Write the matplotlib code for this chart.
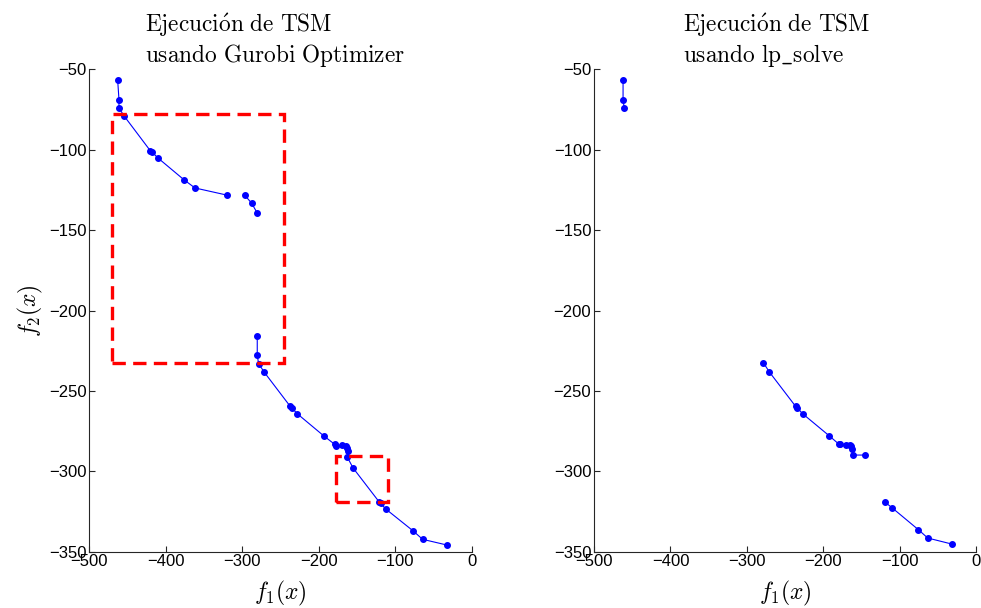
import matplotlib.pyplot as plt
from matplotlib.patches import Rectangle

plt.rcParams['mathtext.fontset'] = 'cm'
plt.rcParams['font.family'] = ['Liberation Sans', 'DejaVu Sans']

# Pareto fronts (f1, f2); each inner list is one connected run
gurobi_f1 = [
    [-462.9, -461.2, -461.2, -454.2, -420.3, -418.0, -410.6, -376.2, -361.8, -320.4],
    [-296.9, -287.7, -280.4],
    [-280.4, -280.4, -278.6, -271.2, -237.3, -235.4, -228.1, -193.6, -179.2, -177.5,
     -169.7, -164.4, -162.7, -161.8, -162.7, -155.3, -120.9, -119.1, -112.5, -76.5,
     -64.2, -32.8],
]
gurobi_f2 = [
    [-56.8, -68.9, -74.1, -79.2, -100.6, -101.4, -105.0, -118.7, -123.8, -128.2],
    [-128.2, -133.3, -139.4],
    [-215.9, -227.9, -233.1, -238.4, -259.6, -260.4, -264.2, -277.9, -283.2, -284.1,
     -283.8, -284.3, -285.5, -287.2, -291.1, -297.8, -319.1, -319.9, -323.4, -337.1,
     -342.3, -345.8],
]

lpsolve_f1 = [
    [-462.0, -462.0, -460.5],
    [-278.5, -270.6, -236.4, -234.2, -227.2, -192.5, -180.3, -178.5, -171.0, -165.8,
     -163.6, -163.2, -161.4, -145.6],
    [-119.7, -110.5, -75.9, -63.6, -32.5],
]
lpsolve_f2 = [
    [-56.8, -68.9, -74.1],
    [-232.5, -238.3, -259.6, -260.6, -264.2, -277.9, -282.9, -283.2, -283.8, -283.8,
     -284.3, -286.1, -289.9, -289.9],
    [-319.1, -322.6, -336.3, -341.5, -345.2],
]

# highlighted regions on the Gurobi front: (x0, y0, width, height)
boxes = [(-470.0, -232.5, 224.0, 155.0), (-178.0, -319.0, 68.0, 28.7)]

titles = [r'$\mathrm{Ejecuci\acute{o}n\ de\ TSM}$' + '\n' + r'$\mathrm{usando\ Gurobi\ Optimizer}$',
          r'$\mathrm{Ejecuci\acute{o}n\ de\ TSM}$' + '\n' + r'$\mathrm{usando\ lp\_solve}$']

fig = plt.figure(figsize=(9.81, 6.08), dpi=100)
ax1 = fig.add_axes([89.3 / 981, 1 - 551.7 / 608, 382.4 / 981, 482.4 / 608])
ax2 = fig.add_axes([594 / 981, 1 - 551.7 / 608, 382.4 / 981, 482.4 / 608])

for ax, xs, ys in [(ax1, gurobi_f1, gurobi_f2), (ax2, lpsolve_f1, lpsolve_f2)]:
    for x, y in zip(xs, ys):
        ax.plot(x, y, '-o', color='#0000ff', lw=0.8, ms=4.0, mec='#0000ff')
    ax.set_xlim(-500, 0)
    ax.set_ylim(-350, -50)
    ax.set_xticks(range(-500, 1, 100))
    ax.set_yticks(range(-350, -49, 50))
    ax.spines['top'].set_visible(False)
    ax.spines['right'].set_visible(False)
    for s in ('left', 'bottom'):
        ax.spines[s].set_linewidth(0.8)
        ax.spines[s].set_color('#262626')
    ax.tick_params(direction='in', length=4, width=0.8, labelsize=12, pad=2,
                   color='#262626')
    ax.set_xlabel(r'$f_1(x)$', fontsize=17, labelpad=7)

ax1.set_ylabel(r'$f_2(x)$', fontsize=17, labelpad=3)

for (x0, y0, w, h) in boxes:
    ax1.add_patch(Rectangle((x0, y0), w, h, fill=False, edgecolor='#ff0000',
                            lw=2.4, ls=(0, (4, 2.2)), zorder=3))

fig.text(145 / 981, 1 - 11 / 608, titles[0], ha='left', va='top', fontsize=16.8,
         linespacing=1.15)
fig.text(683 / 981, 1 - 11 / 608, titles[1], ha='left', va='top', fontsize=16.8,
         linespacing=1.15)

fig.savefig('out.png', dpi=100)
